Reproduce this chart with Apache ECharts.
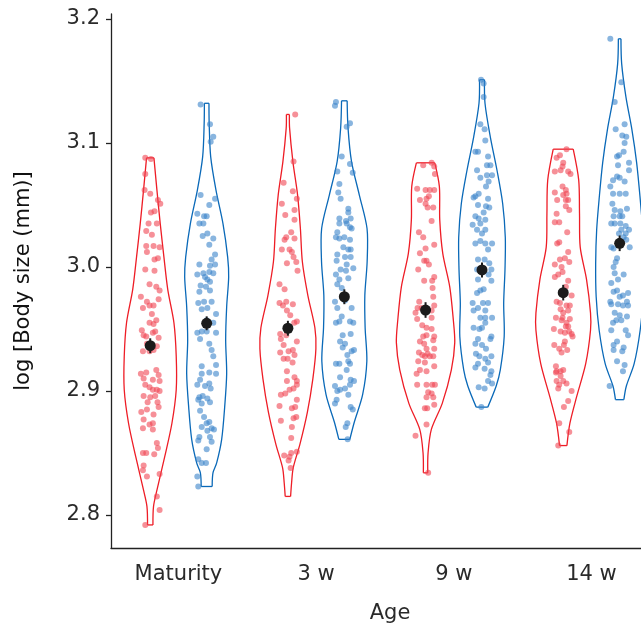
<!DOCTYPE html>
<html>
<head>
<meta charset="utf-8">
<script src="https://cdn.jsdelivr.net/npm/echarts@6/dist/echarts.min.js"></script>
<style>
  html, body { margin: 0; padding: 0; background: #fff; }
  #chart { width: 641px; height: 631px; }
</style>
</head>
<body>
<div id="chart"></div>
<script>
var categories = ['Maturity', '3 w', '9 w', '14 w'];
var yTicks = [2.8, 2.9, 3.0, 3.1, 3.2];

// group means and their error (log body size)
var redMeans = [2.9365, 2.9506, 2.9653, 2.9793];
var blueMeans = [2.9546, 2.9760, 2.9976, 3.0191];
var redErr = [0.006, 0.006, 0.0063, 0.0063];
var blueErr = [0.0056, 0.006, 0.006, 0.0063];

// violin outlines: [value, half width]
var redMaturityShape = [[3.088,3.7],[3.062,6.7],[3.035,10],[3.008,13.7],[2.982,17.5],[2.955,23.7],[2.928,26],[2.901,26],[2.874,21.7],[2.847,14.5],[2.820,6.7],[2.807,3.3],[2.792,2.7]];
var blueMaturityShape = [[3.132,2.3],[3.116,2.5],[3.089,4],[3.062,9.3],[3.035,16.3],[3.008,21],[2.992,22],[2.968,20],[2.941,19],[2.914,20],[2.887,18],[2.861,15],[2.842,10],[2.834,6.3],[2.823,5.5]];
var red3wShape = [[3.123,1.5],[3.112,1.7],[3.085,5],[3.058,9.7],[3.031,12.5],[3.004,14.5],[2.977,20],[2.951,27],[2.934,28],[2.910,25],[2.883,19.5],[2.857,12],[2.838,5.3],[2.826,3.7],[2.815,2.7]];
var blue3wShape = [[3.134,2.8],[3.112,3.7],[3.085,7.2],[3.058,15],[3.031,22.7],[3.004,22.8],[2.977,20.5],[2.951,20.8],[2.924,22.5],[2.897,18.3],[2.875,10],[2.861,5.5]];
var red9wShape = [[3.084,9.2],[3.065,13.8],[3.038,14.2],[3.011,17.2],[2.984,24.2],[2.957,27.8],[2.939,29.2],[2.917,25.8],[2.890,16.7],[2.869,5.8],[2.850,2.5],[2.834,2.2]];
var blue9wShape = [[3.151,2.5],[3.132,3],[3.105,8.3],[3.078,15],[3.051,20.7],[3.024,23.3],[2.998,23],[2.971,21.7],[2.944,22.2],[2.917,18.3],[2.904,14.2],[2.887,5.8]];
var red14wShape = [[3.095,10],[3.070,15.5],[3.043,16.3],[3.016,17],[2.990,23.3],[2.963,27.3],[2.949,27.3],[2.922,22.5],[2.895,13.3],[2.874,6.7],[2.856,3.7]];
var blue14wShape = [[3.184,1.3],[3.164,2],[3.137,6.3],[3.111,12.2],[3.084,17],[3.057,20.3],[3.030,23],[3.003,24],[2.976,23.5],[2.949,20.5],[2.922,14.5],[2.904,6.7],[2.893,4.2]];

// individual points: [value, jitter]
var redMaturity = [[3.088,-0.036],[3.087,0.005],[3.075,-0.036],[3.062,-0.041],[3.059,0],[3.054,0.056],[3.051,0.073],[3.044,0.005],[3.045,0.031],[3.035,-0.012],[3.035,0.048],[3.029,-0.029],[3.026,0.012],[3.017,-0.029],[3.017,0.024],[3.016,0.068],[3.012,-0.024],[3.006,0.031],[3.007,0.056],[2.998,-0.036],[2.997,0.031],[2.986,-0.005],[2.984,0.044],[2.981,0.068],[2.976,-0.068],[2.974,0.061],[2.972,-0.024],[2.967,-0.053],[2.969,-0.005],[2.969,0.024],[2.962,0.012],[2.957,0.044],[2.955,-0.005],[2.954,0.024],[2.949,-0.061],[2.945,-0.048],[2.944,-0.029],[2.947,0.019],[2.948,0.036],[2.943,0.061],[2.938,-0.024],[2.932,-0.053],[2.932,-0.005],[2.933,0.024],[2.936,0.048],[2.914,-0.068],[2.915,-0.029],[2.917,0.044],[2.913,0.061],[2.910,-0.048],[2.909,0.019],[2.908,0.068],[2.905,-0.036],[2.903,-0.005],[2.901,0.019],[2.901,0.048],[2.900,0.068],[2.896,-0.048],[2.895,0],[2.896,0.036],[2.891,-0.019],[2.891,0.053],[2.887,0.061],[2.883,-0.065],[2.885,-0.024],[2.877,-0.048],[2.881,0.024],[2.870,-0.053],[2.873,-0.005],[2.874,0.019],[2.869,0.019],[2.858,0.048],[2.854,0.056],[2.850,-0.053],[2.850,-0.029],[2.849,0.029],[2.840,-0.048],[2.836,-0.053],[2.831,-0.024],[2.833,0.068],[2.815,0.048],[2.804,0.068],[2.792,-0.036]];
var blueMaturity = [[3.131,-0.044],[3.115,0.024],[3.101,0.029],[3.105,0.048],[3.058,-0.044],[3.050,0.019],[3.055,0.061],[3.043,-0.068],[3.041,0],[3.041,-0.019],[3.035,-0.053],[3.035,-0.024],[3.025,-0.029],[3.027,0.005],[3.023,0.048],[3.018,0.019],[3.010,0.061],[3.006,0.036],[3.002,-0.053],[3.001,0.024],[3.002,0.061],[2.994,-0.068],[2.995,-0.024],[2.996,0.019],[2.995,0.048],[2.992,-0.012],[2.990,0.005],[2.988,0.024],[2.984,-0.005],[2.985,-0.044],[2.980,-0.053],[2.981,0.024],[2.972,-0.019],[2.972,0.036],[2.971,-0.061],[2.967,0.005],[2.966,-0.036],[2.957,0],[2.962,0.068],[2.955,0.048],[2.947,-0.068],[2.948,-0.036],[2.948,0],[2.942,-0.048],[2.938,0.019],[2.947,0.068],[2.933,0.036],[2.928,0.048],[2.921,0.068],[2.920,-0.036],[2.915,0.019],[2.914,0.068],[2.909,-0.048],[2.914,-0.036],[2.905,-0.068],[2.904,-0.012],[2.906,0.019],[2.902,0.029],[2.896,-0.029],[2.895,-0.053],[2.893,-0.061],[2.894,0.005],[2.890,-0.036],[2.891,0.024],[2.884,-0.048],[2.879,-0.019],[2.874,0],[2.875,0.019],[2.870,0.036],[2.868,0.005],[2.871,-0.036],[2.869,0.053],[2.863,-0.053],[2.860,-0.061],[2.863,0.024],[2.859,0.036],[2.853,0],[2.845,-0.061],[2.842,-0.036],[2.842,-0.005],[2.831,-0.068],[2.823,-0.061]];
var red3w = [[3.123,0.053],[3.085,0.041],[3.068,-0.031],[3.061,0.036],[3.055,0.065],[3.051,-0.044],[3.046,0.048],[3.042,-0.019],[3.038,0.048],[3.028,0.024],[3.022,-0.024],[3.024,-0.012],[3.023,0.048],[3.014,0.012],[3.012,0.029],[3.014,-0.044],[3.008,0.041],[3.003,-0.007],[3.004,0.061],[2.997,0.070],[2.986,-0.061],[2.982,-0.024],[2.971,-0.061],[2.969,-0.036],[2.972,-0.012],[2.970,0.036],[2.965,-0.007],[2.961,0.017],[2.956,0.065],[2.955,0.046],[2.946,-0.056],[2.942,-0.051],[2.945,-0.012],[2.940,0.065],[2.937,-0.031],[2.931,-0.056],[2.932,0.005],[2.933,0.036],[2.929,0.048],[2.926,-0.031],[2.926,-0.002],[2.923,0.034],[2.916,-0.007],[2.911,0.048],[2.908,0.065],[2.908,-0.007],[2.905,0.065],[2.901,0.012],[2.897,-0.051],[2.898,-0.019],[2.902,0.041],[2.893,0.065],[2.888,-0.061],[2.886,0.029],[2.887,0.053],[2.876,-0.051],[2.878,0.041],[2.879,0.061],[2.871,0.029],[2.862,0.024],[2.848,-0.027],[2.847,0.012],[2.850,0.024],[2.851,0.065],[2.844,0.005],[2.838,0.020]];
var blue3w = [[3.133,-0.061],[3.130,-0.068],[3.116,0.041],[3.113,0.017],[3.089,-0.019],[3.083,0.041],[3.077,-0.051],[3.076,0.061],[3.067,-0.036],[3.060,-0.044],[3.055,-0.027],[3.047,0.029],[3.044,0.029],[3.039,-0.036],[3.037,0.012],[3.039,0.046],[3.035,0.017],[3.032,0.041],[3.035,-0.036],[3.031,0.053],[3.028,-0.051],[3.024,-0.061],[3.023,-0.036],[3.024,0],[3.022,0.041],[3.016,-0.007],[3.014,0.029],[3.014,0.046],[3.010,-0.051],[3.008,0.005],[3.008,0.046],[3.002,0.017],[3.005,-0.056],[2.998,-0.027],[2.997,0.012],[2.999,0.065],[2.994,-0.061],[2.990,-0.036],[2.991,0.029],[2.986,-0.051],[2.983,-0.019],[2.972,-0.068],[2.967,-0.051],[2.973,0.005],[2.960,-0.019],[2.967,0.053],[2.955,-0.061],[2.956,-0.036],[2.956,0.041],[2.955,0.065],[2.945,-0.012],[2.946,0.046],[2.940,-0.031],[2.938,0.005],[2.935,-0.012],[2.929,0.022],[2.932,0.053],[2.933,0.070],[2.924,0.029],[2.922,0.041],[2.922,-0.061],[2.922,-0.036],[2.911,-0.031],[2.909,0.046],[2.917,0.017],[2.904,-0.068],[2.900,-0.051],[2.901,-0.031],[2.902,0.005],[2.905,0.041],[2.908,0.070],[2.897,0.029],[2.890,-0.068],[2.893,-0.056],[2.887,0.046],[2.885,0.061],[2.874,0.022],[2.871,0.010],[2.861,0.024]];
var red9w = [[3.082,-0.017],[3.084,0.044],[3.081,0.063],[3.075,0.068],[3.063,-0.061],[3.062,0],[3.062,0.031],[3.062,0.063],[3.054,-0.041],[3.055,0.007],[3.057,0.024],[3.051,0],[3.048,0.015],[3.048,0.056],[3.037,0.044],[3.028,-0.048],[3.024,-0.017],[3.018,0.063],[3.015,0],[3.011,-0.041],[3.005,-0.010],[3.005,0.007],[3.002,0.024],[2.998,-0.053],[2.992,0.063],[2.989,-0.010],[2.989,0.048],[2.983,0.051],[2.976,0.056],[2.972,-0.046],[2.967,-0.029],[2.967,-0.058],[2.963,-0.073],[2.969,0.063],[2.965,0.044],[2.959,0.044],[2.958,-0.061],[2.953,-0.024],[2.951,0.007],[2.950,0.044],[2.945,0.007],[2.944,-0.017],[2.944,0.063],[2.940,-0.041],[2.938,-0.010],[2.941,0.056],[2.934,0.007],[2.931,-0.048],[2.934,0.063],[2.930,0.015],[2.929,-0.024],[2.928,-0.005],[2.928,0.031],[2.928,0.056],[2.924,-0.053],[2.923,-0.005],[2.920,0.063],[2.917,-0.041],[2.916,0.007],[2.914,-0.065],[2.905,-0.061],[2.905,0.007],[2.905,0.048],[2.905,0.068],[2.899,0.019],[2.898,0.044],[2.895,0.007],[2.895,0.056],[2.886,-0.005],[2.886,0.012],[2.889,0.063],[2.873,0.007],[2.864,-0.073],[2.834,0.019]];
var blue9w = [[3.151,-0.007],[3.148,0.012],[3.137,0.012],[3.115,-0.012],[3.111,0.019],[3.102,0.024],[3.093,-0.048],[3.093,-0.029],[3.089,0.044],[3.078,-0.036],[3.082,0.036],[3.082,0.061],[3.074,0.073],[3.074,0.036],[3.072,-0.012],[3.069,0.048],[3.065,0.029],[3.057,-0.048],[3.059,-0.024],[3.056,-0.061],[3.055,0.044],[3.050,-0.029],[3.049,0.029],[3.048,0.053],[3.044,0.012],[3.041,-0.048],[3.039,-0.024],[3.034,-0.068],[3.038,0.024],[3.035,-0.012],[3.030,-0.036],[3.027,0],[3.030,0.024],[3.019,-0.048],[3.021,-0.012],[3.019,0.024],[3.019,0.073],[3.014,0.044],[3.006,-0.029],[3.006,0.019],[3.003,0.053],[2.998,-0.036],[2.998,0.068],[2.994,0.048],[2.989,0.068],[2.990,-0.029],[2.982,0.012],[2.981,-0.012],[2.979,-0.036],[2.971,-0.068],[2.967,-0.029],[2.971,0.007],[2.971,0.044],[2.965,0.024],[2.959,-0.012],[2.959,0.024],[2.959,0.073],[2.965,-0.061],[2.955,0.024],[2.951,-0.061],[2.950,-0.019],[2.951,0],[2.944,0.068],[2.942,0.061],[2.942,-0.029],[2.938,-0.048],[2.937,0],[2.934,0.029],[2.930,-0.044],[2.928,-0.019],[2.926,0.024],[2.928,0.068],[2.922,-0.029],[2.918,0.019],[2.919,-0.048],[2.923,0.044],[2.916,0.068],[2.913,0.061],[2.908,0.044],[2.906,0.073],[2.903,-0.024],[2.902,0.019],[2.887,-0.005]];
var red14w = [[3.095,0.024],[3.088,-0.048],[3.090,-0.024],[3.084,0],[3.081,-0.005],[3.077,-0.061],[3.078,-0.019],[3.077,0.036],[3.075,0.053],[3.065,-0.005],[3.062,0.019],[3.058,0],[3.059,0.024],[3.054,-0.044],[3.054,0.019],[3.060,-0.061],[3.054,0.036],[3.049,0.019],[3.046,0.044],[3.043,-0.048],[3.036,-0.061],[3.036,-0.029],[3.028,0.029],[3.019,-0.044],[3.020,-0.029],[3.012,0.036],[3.002,-0.061],[3.000,-0.012],[3.006,-0.024],[3.007,0.012],[3.004,0.044],[2.996,-0.005],[2.994,-0.036],[2.992,-0.061],[2.989,0.036],[2.984,0.019],[2.977,0.061],[2.972,-0.048],[2.971,-0.024],[2.969,0.024],[2.969,0.048],[2.966,-0.019],[2.965,0.036],[2.963,0],[2.959,-0.053],[2.959,-0.005],[2.958,0.048],[2.955,0.024],[2.952,0.036],[2.957,-0.012],[2.950,-0.068],[2.952,0.019],[2.948,-0.019],[2.947,0.012],[2.948,0.044],[2.946,0.061],[2.944,0.068],[2.937,-0.065],[2.934,-0.029],[2.937,0.005],[2.933,0.029],[2.931,-0.012],[2.940,0.012],[2.920,-0.053],[2.916,-0.048],[2.916,-0.019],[2.917,0],[2.915,-0.053],[2.912,-0.019],[2.908,-0.048],[2.908,0],[2.905,-0.029],[2.906,0.024],[2.902,-0.036],[2.900,0.061],[2.892,0.036],[2.887,0.005],[2.874,-0.029],[2.867,0.044],[2.856,-0.036]];
var blue14w = [[3.184,-0.068],[3.149,0.012],[3.133,-0.036],[3.111,-0.029],[3.115,0.036],[3.106,0.019],[3.105,0.048],[3.100,0.036],[3.093,0.029],[3.089,-0.019],[3.090,-0.005],[3.084,0.068],[3.082,-0.012],[3.078,0.068],[3.073,-0.019],[3.072,0],[3.070,-0.048],[3.069,0.036],[3.065,-0.068],[3.059,-0.048],[3.059,0],[3.059,0.044],[3.051,-0.053],[3.046,-0.036],[3.045,0.005],[3.047,0.053],[3.041,-0.044],[3.041,0],[3.041,0.019],[3.035,-0.061],[3.035,-0.036],[3.035,0.005],[3.033,0.044],[3.030,0.012],[3.030,0.068],[3.027,0.044],[3.027,-0.005],[3.024,0.029],[3.022,0.048],[3.015,-0.044],[3.019,-0.005],[3.016,-0.061],[3.016,0.073],[3.007,-0.019],[3.004,-0.029],[3.000,-0.044],[2.995,-0.036],[2.994,0.029],[2.990,-0.012],[2.987,-0.061],[2.980,-0.044],[2.981,-0.019],[2.976,0],[2.977,0.024],[2.979,0.061],[2.972,0.053],[2.972,-0.068],[2.970,-0.061],[2.970,-0.012],[2.969,0.024],[2.969,0.061],[2.963,-0.036],[2.961,0],[2.957,-0.024],[2.960,0.053],[2.955,-0.048],[2.957,0.012],[2.949,-0.061],[2.949,0.044],[2.940,-0.019],[2.945,0.061],[2.937,-0.044],[2.935,0.029],[2.933,-0.044],[2.932,0.019],[2.924,-0.019],[2.921,0.036],[2.916,0.024],[2.904,-0.073]];

var RED = '#ee1d26';
var BLUE = '#0a69b8';
var RED_PT = 'rgba(240, 70, 84, 0.6)';
var BLUE_PT = 'rgba(58, 132, 202, 0.6)';
var INK = '#1b1b1b';
var FONT = 'DejaVu Sans';
var DODGE = 0.205;
var WIDTH_UNIT = 1 / 137.7;

var violins = [
  { cat: 0, side: -1, outline: redMaturityShape, color: RED },
  { cat: 0, side: 1, outline: blueMaturityShape, color: BLUE },
  { cat: 1, side: -1, outline: red3wShape, color: RED },
  { cat: 1, side: 1, outline: blue3wShape, color: BLUE },
  { cat: 2, side: -1, outline: red9wShape, color: RED },
  { cat: 2, side: 1, outline: blue9wShape, color: BLUE },
  { cat: 3, side: -1, outline: red14wShape, color: RED },
  { cat: 3, side: 1, outline: blue14wShape, color: BLUE }
];

function centre(cat, side) {
  return cat + 1 + side * DODGE;
}

function points(sets, side) {
  var out = [];
  sets.forEach(function (set, cat) {
    set.forEach(function (p) {
      out.push([centre(cat, side) + p[1], p[0]]);
    });
  });
  return out;
}

function renderViolin(params, api) {
  var v = violins[params.dataIndex];
  var cx = centre(v.cat, v.side);
  var left = v.outline.map(function (p) { return api.coord([cx - p[1] * WIDTH_UNIT, p[0]]); });
  var right = v.outline.map(function (p) { return api.coord([cx + p[1] * WIDTH_UNIT, p[0]]); });
  var n = left.length;
  var style = { stroke: v.color, fill: null, lineWidth: 1.3 };
  return {
    type: 'group',
    children: [
      { type: 'polyline', shape: { points: left, smooth: 0.3 }, style: style },
      { type: 'polyline', shape: { points: right, smooth: 0.3 }, style: style },
      { type: 'line', shape: { x1: left[0][0], y1: left[0][1], x2: right[0][0], y2: right[0][1] }, style: style },
      { type: 'line', shape: { x1: left[n - 1][0], y1: left[n - 1][1], x2: right[n - 1][0], y2: right[n - 1][1] }, style: style }
    ]
  };
}

function meanData(means, errs, side) {
  return means.map(function (m, i) { return [centre(i, side), m, errs[i]]; });
}

function renderErr(params, api) {
  var x = api.value(0), m = api.value(1), e = api.value(2);
  var top = api.coord([x, m + e]);
  var bot = api.coord([x, m - e]);
  return {
    type: 'line',
    shape: { x1: top[0], y1: top[1], x2: bot[0], y2: bot[1] },
    style: { stroke: INK, lineWidth: 2 }
  };
}

var chart = echarts.init(document.getElementById('chart'));
var option = {
  animation: false,
  grid: { left: 111, right: 0, top: 14, bottom: 83 },
  xAxis: {
    type: 'value',
    min: 0.51,
    max: 4.36,
    splitLine: { show: false },
    axisLine: { onZero: false, lineStyle: { color: '#222', width: 1.3 } },
    axisTick: { show: false },
    axisLabel: {
      customValues: [1, 2, 3, 4],
      formatter: function (v) { return categories[Math.round(v) - 1]; },
      fontSize: 21, color: '#2a2a2a', fontFamily: FONT, margin: 16
    },
    name: 'Age',
    nameLocation: 'middle',
    nameGap: 55,
    nameTextStyle: { fontSize: 21, color: '#2a2a2a', fontFamily: FONT, padding: [0, 0, 0, 28] }
  },
  yAxis: {
    type: 'value',
    min: 2.7734,
    max: 3.204,
    splitLine: { show: false },
    axisLine: { onZero: false, lineStyle: { color: '#222', width: 1.3 } },
    axisTick: { customValues: yTicks, length: 5, lineStyle: { color: '#222', width: 1.3 } },
    axisLabel: {
      customValues: yTicks,
      formatter: function (v) { return v.toFixed(1); },
      fontSize: 21, color: '#2a2a2a', fontFamily: FONT, margin: 11
    },
    name: 'log [Body size (mm)]',
    nameLocation: 'middle',
    nameGap: 77,
    nameTextStyle: { fontSize: 21, color: '#111', fontFamily: FONT }
  },
  series: [
    {
      type: 'custom',
      renderItem: renderViolin,
      data: violins.map(function (v) { return [centre(v.cat, v.side), 3.0]; }),
      z: 2
    },
    {
      type: 'scatter',
      data: points([redMaturity, red3w, red9w, red14w], -1),
      symbolSize: 6,
      itemStyle: { color: RED_PT, opacity: 1 },
      z: 3
    },
    {
      type: 'scatter',
      data: points([blueMaturity, blue3w, blue9w, blue14w], 1),
      symbolSize: 6,
      itemStyle: { color: BLUE_PT, opacity: 1 },
      z: 3
    },
    {
      type: 'custom',
      renderItem: renderErr,
      data: meanData(redMeans, redErr, -1).concat(meanData(blueMeans, blueErr, 1)),
      z: 4
    },
    {
      type: 'scatter',
      data: meanData(redMeans, redErr, -1).concat(meanData(blueMeans, blueErr, 1)),
      symbolSize: 11,
      itemStyle: { color: INK, opacity: 1 },
      z: 5
    }
  ]
};
chart.setOption(option);
</script>
</body>
</html>
